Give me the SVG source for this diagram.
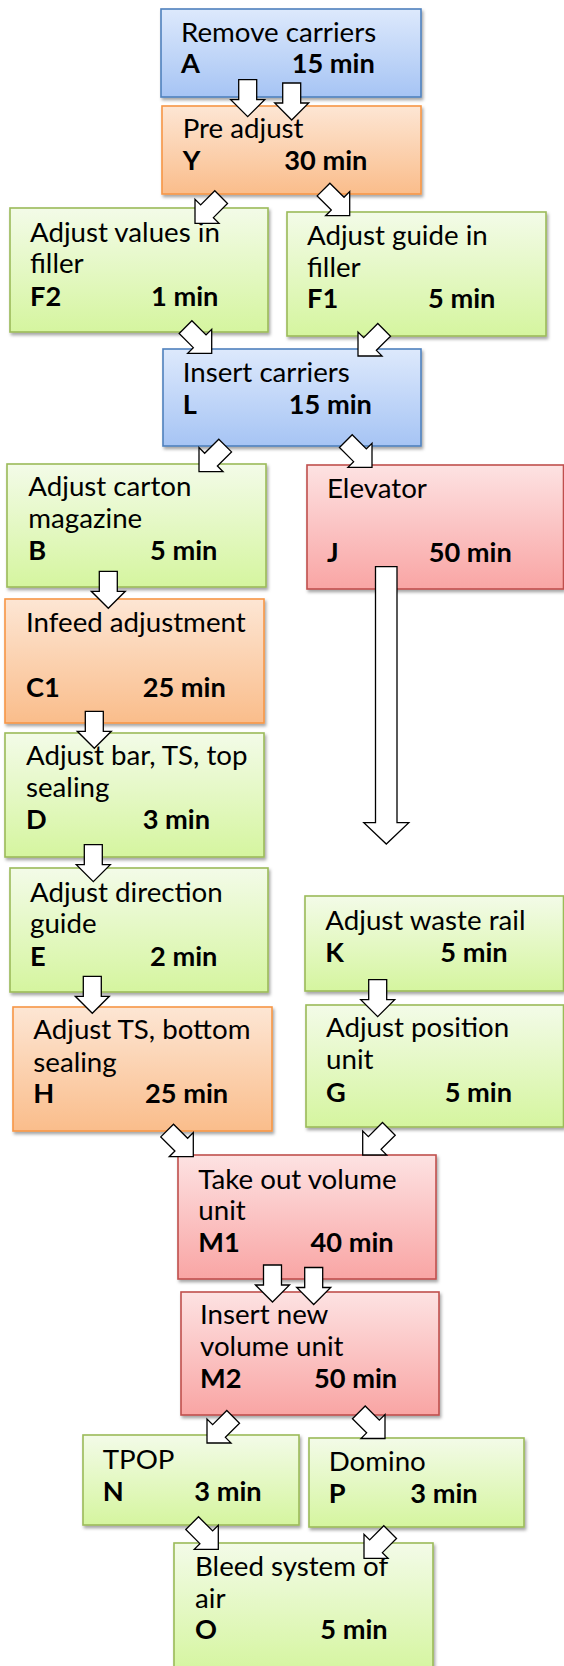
<svg xmlns="http://www.w3.org/2000/svg" xmlns:xlink="http://www.w3.org/1999/xlink" width="564" height="1666" viewBox="0 0 564 1666">
  <defs>
    <linearGradient id="gBlue" x1="0" y1="0" x2="0" y2="1">
      <stop offset="0" stop-color="#dde9fc"/>
      <stop offset="1" stop-color="#a6c4f4"/>
    </linearGradient>
    <linearGradient id="gOrange" x1="0" y1="0" x2="0" y2="1">
      <stop offset="0" stop-color="#fde6d4"/>
      <stop offset="1" stop-color="#fabd8b"/>
    </linearGradient>
    <linearGradient id="gGreen" x1="0" y1="0" x2="0" y2="1">
      <stop offset="0" stop-color="#f3fbe8"/>
      <stop offset="1" stop-color="#d5f59f"/>
    </linearGradient>
    <linearGradient id="gRed" x1="0" y1="0" x2="0" y2="1">
      <stop offset="0" stop-color="#fde2e2"/>
      <stop offset="1" stop-color="#f9a5a4"/>
    </linearGradient>
    <filter id="shadow" x="-10%" y="-10%" width="125%" height="130%">
      <feDropShadow dx="1.5" dy="2.5" stdDeviation="1.6" flood-color="#000" flood-opacity="0.35"/>
    </filter>
    <!-- block arrow pointing down, tip at the origin -->
    <path id="arrow" d="M-9,-37 L9,-37 L9,-17 L17,-17 L0,0 L-17,-17 L-9,-17 Z" fill="#fff" stroke="#000" stroke-width="1.3" stroke-linejoin="miter"/>
  </defs>
  <style>
    .box { stroke-width: 1.6; filter: url(#shadow); }
    .blue { fill: url(#gBlue); stroke: #4f81bd; }
    .orange { fill: url(#gOrange); stroke: #f79646; }
    .green { fill: url(#gGreen); stroke: #9bbb59; }
    .red { fill: url(#gRed); stroke: #c0504d; }
    text { font-family: Lato, "Liberation Sans", sans-serif; font-size: 27.7px; fill: #000; }
    .b { font-weight: bold; font-size: 27.2px; }
  </style>

  <g id="node-A">
    <rect class="box blue" x="161" y="9" width="260" height="88"/>
    <text x="181" y="41.7">Remove carriers</text>
    <text class="b" x="181" y="72.7">A</text>
    <text class="b" x="291.7" y="72.7">15 min</text>
  </g>
  <g id="node-Y">
    <rect class="box orange" x="162" y="106" width="259" height="88"/>
    <text x="182.7" y="138.3">Pre adjust</text>
    <text class="b" x="182.7" y="170">Y</text>
    <text class="b" x="284.3" y="170">30 min</text>
  </g>
  <g id="node-F2">
    <rect class="box green" x="10" y="208" width="258" height="124"/>
    <text x="30" y="241.7">Adjust values in</text>
    <text x="30" y="273.3">filler</text>
    <text class="b" x="30" y="305.7">F2</text>
    <text class="b" x="151" y="305.7">1 min</text>
  </g>
  <g id="node-F1">
    <rect class="box green" x="287" y="212" width="259" height="124"/>
    <text x="307" y="245">Adjust guide in</text>
    <text x="307" y="277.3">filler</text>
    <text class="b" x="307" y="308.3">F1</text>
    <text class="b" x="428" y="308.3">5 min</text>
  </g>
  <g id="node-L">
    <rect class="box blue" x="163" y="349" width="258" height="97"/>
    <text x="182.7" y="382.3">Insert carriers</text>
    <text class="b" x="182.7" y="414">L</text>
    <text class="b" x="288.8" y="414">15 min</text>
  </g>
  <g id="node-B">
    <rect class="box green" x="7" y="464" width="259" height="123"/>
    <text x="28.3" y="496">Adjust carton</text>
    <text x="28.3" y="528.3">magazine</text>
    <text class="b" x="28.3" y="560">B</text>
    <text class="b" x="150" y="560">5 min</text>
  </g>
  <g id="node-J">
    <rect class="box red" x="307" y="465" width="256.5" height="124"/>
    <text x="327" y="498.3">Elevator</text>
    <text class="b" x="327" y="561.7">J</text>
    <text class="b" x="428.7" y="561.7">50 min</text>
  </g>
  <g id="node-C1">
    <rect class="box orange" x="5" y="599" width="259" height="124"/>
    <text x="26" y="632.3">Infeed adjustment</text>
    <text class="b" x="26" y="696.7">C1</text>
    <text class="b" x="142.7" y="696.7">25 min</text>
  </g>
  <g id="node-D">
    <rect class="box green" x="5" y="733" width="259" height="124"/>
    <text x="26" y="765">Adjust bar, TS, top</text>
    <text x="26" y="797.3">sealing</text>
    <text class="b" x="26" y="829.3">D</text>
    <text class="b" x="142.7" y="829.3">3 min</text>
  </g>
  <g id="node-E">
    <rect class="box green" x="10" y="868" width="258" height="124"/>
    <text x="30" y="901.7">Adjust direction</text>
    <text x="30" y="933.3">guide</text>
    <text class="b" x="30" y="965.7">E</text>
    <text class="b" x="150" y="965.7">2 min</text>
  </g>
  <g id="node-K">
    <rect class="box green" x="305" y="896" width="258.5" height="95"/>
    <text x="325.3" y="930">Adjust waste rail</text>
    <text class="b" x="325.3" y="961.7">K</text>
    <text class="b" x="440.3" y="961.7">5 min</text>
  </g>
  <g id="node-H">
    <rect class="box orange" x="13" y="1007" width="259" height="124"/>
    <text x="33.3" y="1039.3">Adjust TS, bottom</text>
    <text x="33.3" y="1071.7">sealing</text>
    <text class="b" x="33.3" y="1103.3">H</text>
    <text class="b" x="145" y="1103.3">25 min</text>
  </g>
  <g id="node-G">
    <rect class="box green" x="306" y="1005" width="257.5" height="122"/>
    <text x="326" y="1037.3">Adjust position</text>
    <text x="326" y="1069.3">unit</text>
    <text class="b" x="326" y="1101.7">G</text>
    <text class="b" x="444.7" y="1101.7">5 min</text>
  </g>
  <g id="node-M1">
    <rect class="box red" x="178" y="1155" width="258" height="124"/>
    <text x="198.3" y="1188.7">Take out volume</text>
    <text x="198.3" y="1220">unit</text>
    <text class="b" x="198.3" y="1252">M1</text>
    <text class="b" x="310.5" y="1252">40 min</text>
  </g>
  <g id="node-M2">
    <rect class="box red" x="181" y="1292" width="258" height="123"/>
    <text x="200" y="1324.3">Insert new</text>
    <text x="200" y="1356">volume unit</text>
    <text class="b" x="200" y="1388.3">M2</text>
    <text class="b" x="314" y="1388.3">50 min</text>
  </g>
  <g id="node-N">
    <rect class="box green" x="83" y="1435" width="216" height="90"/>
    <text x="102.7" y="1469.3">TPOP</text>
    <text class="b" x="102.7" y="1501">N</text>
    <text class="b" x="194.3" y="1501">3 min</text>
  </g>
  <g id="node-P">
    <rect class="box green" x="309" y="1438" width="215" height="89"/>
    <text x="328.7" y="1471">Domino</text>
    <text class="b" x="328.7" y="1503.3">P</text>
    <text class="b" x="410.3" y="1503.3">3 min</text>
  </g>
  <g id="node-O">
    <rect class="box green" x="174" y="1543" width="259" height="130"/>
    <text x="195" y="1576">Bleed system of</text>
    <text x="195" y="1607.7">air</text>
    <text class="b" x="195" y="1639.3">O</text>
    <text class="b" x="320.3" y="1639.3">5 min</text>
  </g>

  <g id="connectors">
    <!-- A to Y (two arrows) -->
    <use xlink:href="#arrow" transform="translate(247.7,116.7)"/>
    <use xlink:href="#arrow" transform="translate(291.7,120)"/>
    <!-- Y to F2 / F1 -->
    <use xlink:href="#arrow" transform="translate(195,223.3) rotate(45)"/>
    <use xlink:href="#arrow" transform="translate(349.7,215.7) rotate(-45)"/>
    <!-- F2 / F1 to L -->
    <use xlink:href="#arrow" transform="translate(211.7,353.3) rotate(-45)"/>
    <use xlink:href="#arrow" transform="translate(358,356) rotate(45)"/>
    <!-- L to B / J -->
    <use xlink:href="#arrow" transform="translate(199,471.7) rotate(45)"/>
    <use xlink:href="#arrow" transform="translate(372,467.3) rotate(-45)"/>
    <!-- left column chain -->
    <use xlink:href="#arrow" transform="translate(108.3,608.3)"/>
    <use xlink:href="#arrow" transform="translate(94.3,748.3)"/>
    <use xlink:href="#arrow" transform="translate(93.3,881.7)"/>
    <use xlink:href="#arrow" transform="translate(92.3,1013.3)"/>
    <!-- elevator long arrow -->
    <path d="M375.5,566.7 L397,566.7 L397,822.7 L408.8,822.7 L386.3,844 L363.8,822.7 L375.5,822.7 Z" fill="#fff" stroke="#000" stroke-width="1.3"/>
    <!-- K to G -->
    <use xlink:href="#arrow" transform="translate(377.7,1016.7)"/>
    <!-- H / G to M1 -->
    <use xlink:href="#arrow" transform="translate(193.3,1156.7) rotate(-45)"/>
    <use xlink:href="#arrow" transform="translate(362.7,1155) rotate(45)"/>
    <!-- M1 to M2 (two arrows) -->
    <use xlink:href="#arrow" transform="translate(272.5,1302)"/>
    <use xlink:href="#arrow" transform="translate(313.7,1304.5)"/>
    <!-- M2 to N / P -->
    <use xlink:href="#arrow" transform="translate(207,1443) rotate(45)"/>
    <use xlink:href="#arrow" transform="translate(385,1438.5) rotate(-45)"/>
    <!-- N / P to O -->
    <use xlink:href="#arrow" transform="translate(218.3,1549.3) rotate(-45)"/>
    <use xlink:href="#arrow" transform="translate(364,1558.3) rotate(45)"/>
  </g>
</svg>
